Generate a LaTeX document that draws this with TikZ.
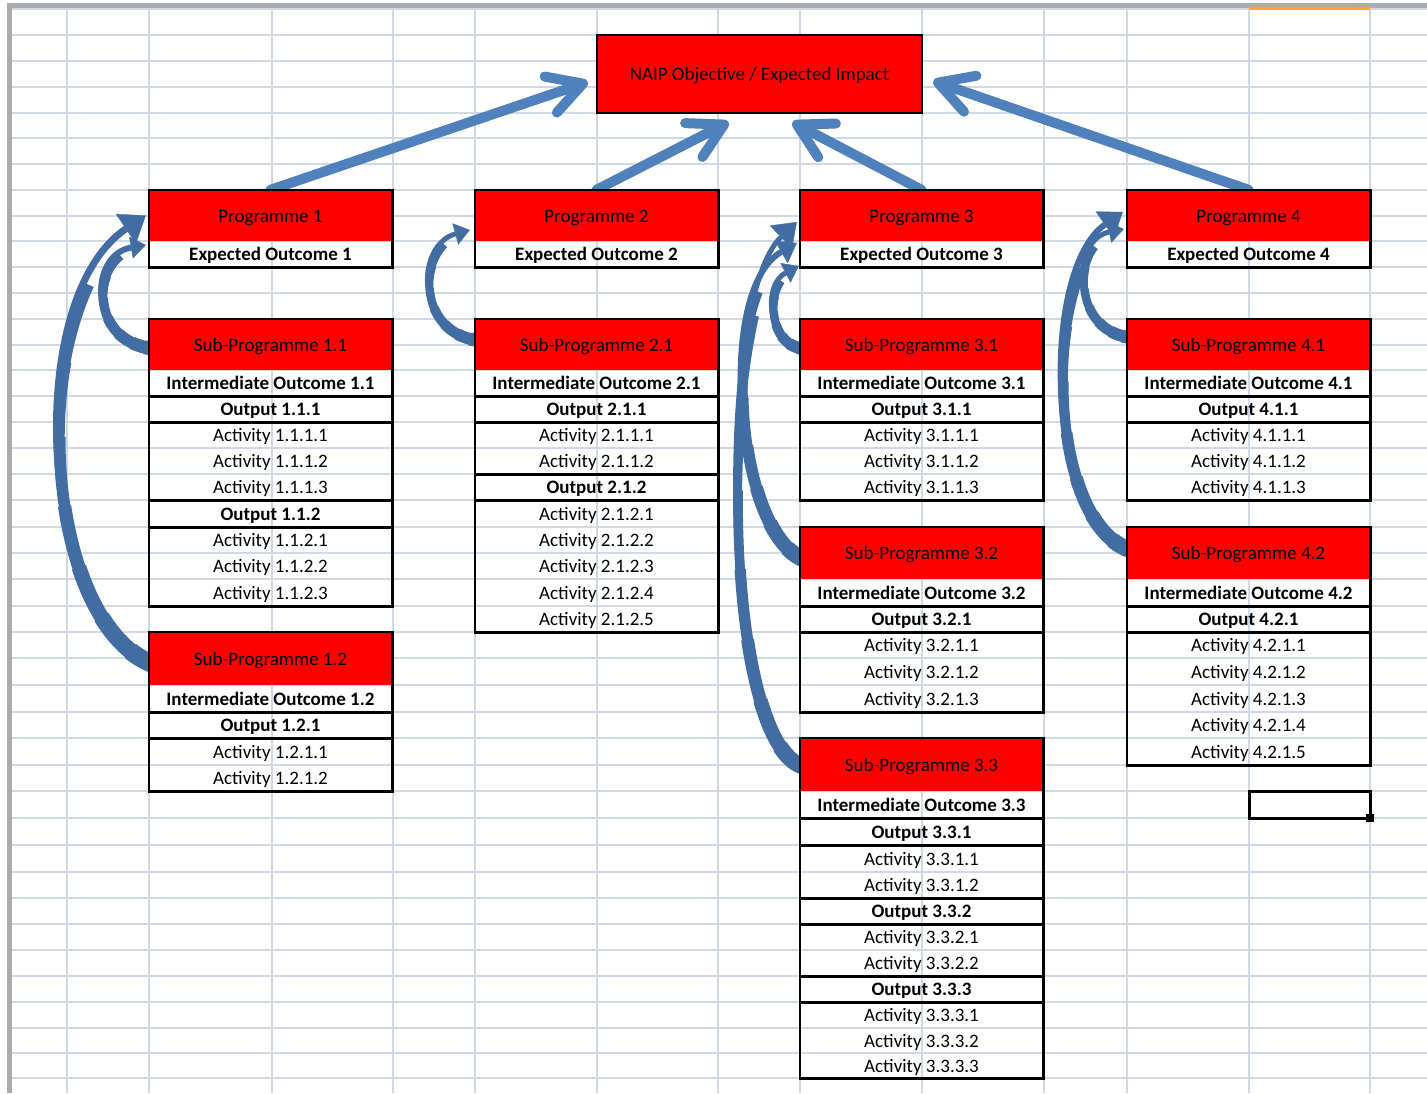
\documentclass[tikz,border=0pt]{standalone}
\usepackage{fontspec}
\setmainfont{Carlito}
\usetikzlibrary{arrows.meta,calc}
\definecolor{gridc}{HTML}{D0D7E5}
\definecolor{arrowblue}{HTML}{4F81BD}
\definecolor{curveblue}{HTML}{426DA2}
\definecolor{cellred}{HTML}{FF0000}
\definecolor{hdrgray}{HTML}{ABABAB}
\definecolor{selorange}{HTML}{F9A838}
\pgfdeclarelayer{gridlayer}
\pgfdeclarelayer{arrowlayer}
\pgfsetlayers{gridlayer,arrowlayer,main}
\def\RY{{9,35,61,87,113,138,164,190,216,241,267,293,319,345,370,396,422,448,474,500,527,553,579,606,632,658,685,712,738,765,791,818,845,872,898,924,950,976,1002,1028,1053,1078,1093}}
\newcommand\mkcell[6]{%
  \pgfmathsetmacro\ytop{\RY[#3]}%
  \pgfmathsetmacro\ybot{\RY[#4]}%
  \pgfmathsetmacro\hcell{\ybot-\ytop}%
  \pgfmathsetmacro\ycen{(\ybot+\ytop)/2}%
  \node[#5, minimum height=\hcell pt] (#1) at (#2+121.5,\ycen) {#6};%
}
\newcommand\grpbox[2]{\draw[boxline] (#1.north west) rectangle (#2.south east);}
% tapered curved arrow: #1 path, #2 length, #3 tail width, #4 head width, #5 tip options
\newcommand\taper[5]{%
  \foreach \i in {0,...,6}{%
    \pgfmathsetmacro\lw{#3-(#3-#4)*\i/7}%
    \pgfmathsetmacro\dl{#2*((\i+1)/8)^1.4}%
    \draw[curvebody, line width=\lw pt, dash pattern=on \dl pt off 3000pt] #1;%
  }%
  \draw[curvebody, line width=#4pt, -{Triangle[#5,line width=0.3pt]}] #1;%
}
\begin{document}
\begin{tikzpicture}[x=1pt,y=-1pt,
  cellbase/.style={rectangle, inner sep=0pt, minimum width=243pt, text=black,
    text height=15pt, text depth=2pt,
    font=\fontsize{19pt}{22pt}\selectfont},
  redcell/.style={cellbase, fill=cellred},
  boldcell/.style={cellbase, font=\fontsize{19pt}{22pt}\selectfont\bfseries},
  plaincell/.style={cellbase},
  boxline/.style={line width=2.6pt, black},
  gridline/.style={gridc, line width=1.3pt},
  progarrow/.style={draw=arrowblue, line width=10pt, line cap=round,
    -{Straight Barb[length=34pt,width=38pt,round]}},
  curvebody/.style={draw=curveblue, line cap=butt}
]
\useasboundingbox (0,0) rectangle (1427,1093);
\begin{pgfonlayer}{gridlayer}
  \fill[white] (0,0) rectangle (1427,1093);
  \foreach \k in {0,...,41}{\pgfmathsetmacro\yy{\RY[\k]}\draw[gridline] (12,\yy) -- (1427,\yy);}
  \foreach \xx in {67,149,272,393,475,597,718,800,922,1044,1127,1249,1370}{\draw[gridline] (\xx,9) -- (\xx,1093);}
  \fill[hdrgray] (7,3) rectangle (1427,8);
  \fill[hdrgray] (7,3) rectangle (12,1093);
  \fill[selorange] (1249,7) rectangle (1370,10);
\end{pgfonlayer}

% top objective
\node[redcell, draw=black, line width=2.6pt, minimum width=325pt, minimum height=78pt] (naip) at (759.5,74) {NAIP Objective / Expected Impact};

% ---- column 1
\mkcell{p1}{149}{7}{9}{redcell}{Programme 1}
\mkcell{eo1}{149}{9}{10}{boldcell}{Expected Outcome 1}
\grpbox{p1}{eo1}
\mkcell{sp11}{149}{12}{14}{redcell}{Sub-Programme 1.1}
\mkcell{io11}{149}{14}{15}{boldcell}{Intermediate Outcome 1.1}
\grpbox{sp11}{io11}
\mkcell{o111}{149}{15}{16}{boldcell}{Output 1.1.1}
\grpbox{o111}{o111}
\mkcell{a1111}{149}{16}{17}{plaincell}{Activity 1.1.1.1}
\mkcell{a1112}{149}{17}{18}{plaincell}{Activity 1.1.1.2}
\mkcell{a1113}{149}{18}{19}{plaincell}{Activity 1.1.1.3}
\grpbox{a1111}{a1113}
\mkcell{o112}{149}{19}{20}{boldcell}{Output 1.1.2}
\grpbox{o112}{o112}
\mkcell{a1121}{149}{20}{21}{plaincell}{Activity 1.1.2.1}
\mkcell{a1122}{149}{21}{22}{plaincell}{Activity 1.1.2.2}
\mkcell{a1123}{149}{22}{23}{plaincell}{Activity 1.1.2.3}
\grpbox{a1121}{a1123}
\mkcell{sp12}{149}{24}{26}{redcell}{Sub-Programme 1.2}
\mkcell{io12}{149}{26}{27}{boldcell}{Intermediate Outcome 1.2}
\grpbox{sp12}{io12}
\mkcell{o121}{149}{27}{28}{boldcell}{Output 1.2.1}
\grpbox{o121}{o121}
\mkcell{a1211}{149}{28}{29}{plaincell}{Activity 1.2.1.1}
\mkcell{a1212}{149}{29}{30}{plaincell}{Activity 1.2.1.2}
\grpbox{a1211}{a1212}

% ---- column 2
\mkcell{p2}{475}{7}{9}{redcell}{Programme 2}
\mkcell{eo2}{475}{9}{10}{boldcell}{Expected Outcome 2}
\grpbox{p2}{eo2}
\mkcell{sp21}{475}{12}{14}{redcell}{Sub-Programme 2.1}
\mkcell{io21}{475}{14}{15}{boldcell}{Intermediate Outcome 2.1}
\grpbox{sp21}{io21}
\mkcell{o211}{475}{15}{16}{boldcell}{Output 2.1.1}
\grpbox{o211}{o211}
\mkcell{a2111}{475}{16}{17}{plaincell}{Activity 2.1.1.1}
\mkcell{a2112}{475}{17}{18}{plaincell}{Activity 2.1.1.2}
\grpbox{a2111}{a2112}
\mkcell{o212}{475}{18}{19}{boldcell}{Output 2.1.2}
\grpbox{o212}{o212}
\mkcell{a2121}{475}{19}{20}{plaincell}{Activity 2.1.2.1}
\mkcell{a2122}{475}{20}{21}{plaincell}{Activity 2.1.2.2}
\mkcell{a2123}{475}{21}{22}{plaincell}{Activity 2.1.2.3}
\mkcell{a2124}{475}{22}{23}{plaincell}{Activity 2.1.2.4}
\mkcell{a2125}{475}{23}{24}{plaincell}{Activity 2.1.2.5}
\grpbox{a2121}{a2125}

% ---- column 3
\mkcell{p3}{800}{7}{9}{redcell}{Programme 3}
\mkcell{eo3}{800}{9}{10}{boldcell}{Expected Outcome 3}
\grpbox{p3}{eo3}
\mkcell{sp31}{800}{12}{14}{redcell}{Sub-Programme 3.1}
\mkcell{io31}{800}{14}{15}{boldcell}{Intermediate Outcome 3.1}
\grpbox{sp31}{io31}
\mkcell{o311}{800}{15}{16}{boldcell}{Output 3.1.1}
\grpbox{o311}{o311}
\mkcell{a3111}{800}{16}{17}{plaincell}{Activity 3.1.1.1}
\mkcell{a3112}{800}{17}{18}{plaincell}{Activity 3.1.1.2}
\mkcell{a3113}{800}{18}{19}{plaincell}{Activity 3.1.1.3}
\grpbox{a3111}{a3113}
\mkcell{sp32}{800}{20}{22}{redcell}{Sub-Programme 3.2}
\mkcell{io32}{800}{22}{23}{boldcell}{Intermediate Outcome 3.2}
\grpbox{sp32}{io32}
\mkcell{o321}{800}{23}{24}{boldcell}{Output 3.2.1}
\grpbox{o321}{o321}
\mkcell{a3211}{800}{24}{25}{plaincell}{Activity 3.2.1.1}
\mkcell{a3212}{800}{25}{26}{plaincell}{Activity 3.2.1.2}
\mkcell{a3213}{800}{26}{27}{plaincell}{Activity 3.2.1.3}
\grpbox{a3211}{a3213}
\mkcell{sp33}{800}{28}{30}{redcell}{Sub-Programme 3.3}
\mkcell{io33}{800}{30}{31}{boldcell}{Intermediate Outcome 3.3}
\grpbox{sp33}{io33}
\mkcell{o331}{800}{31}{32}{boldcell}{Output 3.3.1}
\grpbox{o331}{o331}
\mkcell{a3311}{800}{32}{33}{plaincell}{Activity 3.3.1.1}
\mkcell{a3312}{800}{33}{34}{plaincell}{Activity 3.3.1.2}
\grpbox{a3311}{a3312}
\mkcell{o332}{800}{34}{35}{boldcell}{Output 3.3.2}
\grpbox{o332}{o332}
\mkcell{a3321}{800}{35}{36}{plaincell}{Activity 3.3.2.1}
\mkcell{a3322}{800}{36}{37}{plaincell}{Activity 3.3.2.2}
\grpbox{a3321}{a3322}
\mkcell{o333}{800}{37}{38}{boldcell}{Output 3.3.3}
\grpbox{o333}{o333}
\mkcell{a3331}{800}{38}{39}{plaincell}{Activity 3.3.3.1}
\mkcell{a3332}{800}{39}{40}{plaincell}{Activity 3.3.3.2}
\mkcell{a3333}{800}{40}{41}{plaincell}{Activity 3.3.3.3}
\grpbox{a3331}{a3333}

% ---- column 4
\mkcell{p4}{1127}{7}{9}{redcell}{Programme 4}
\mkcell{eo4}{1127}{9}{10}{boldcell}{Expected Outcome 4}
\grpbox{p4}{eo4}
\mkcell{sp41}{1127}{12}{14}{redcell}{Sub-Programme 4.1}
\mkcell{io41}{1127}{14}{15}{boldcell}{Intermediate Outcome 4.1}
\grpbox{sp41}{io41}
\mkcell{o411}{1127}{15}{16}{boldcell}{Output 4.1.1}
\grpbox{o411}{o411}
\mkcell{a4111}{1127}{16}{17}{plaincell}{Activity 4.1.1.1}
\mkcell{a4112}{1127}{17}{18}{plaincell}{Activity 4.1.1.2}
\mkcell{a4113}{1127}{18}{19}{plaincell}{Activity 4.1.1.3}
\grpbox{a4111}{a4113}
\mkcell{sp42}{1127}{20}{22}{redcell}{Sub-Programme 4.2}
\mkcell{io42}{1127}{22}{23}{boldcell}{Intermediate Outcome 4.2}
\grpbox{sp42}{io42}
\mkcell{o421}{1127}{23}{24}{boldcell}{Output 4.2.1}
\grpbox{o421}{o421}
\mkcell{a4211}{1127}{24}{25}{plaincell}{Activity 4.2.1.1}
\mkcell{a4212}{1127}{25}{26}{plaincell}{Activity 4.2.1.2}
\mkcell{a4213}{1127}{26}{27}{plaincell}{Activity 4.2.1.3}
\mkcell{a4214}{1127}{27}{28}{plaincell}{Activity 4.2.1.4}
\mkcell{a4215}{1127}{28}{29}{plaincell}{Activity 4.2.1.5}
\grpbox{a4211}{a4215}

% selected spreadsheet cell
\draw[line width=3pt] (1249,791) rectangle (1370,818);
\fill (1366,814) rectangle (1374,822);

% ---- connectors
\begin{pgfonlayer}{arrowlayer}
  \draw[progarrow] (p1.north) -- ($(naip.west)+(-8,8)$);
  \draw[progarrow] (p2.north) -- ($(naip.south)+(-31,8)$);
  \draw[progarrow] (p3.north) -- ($(naip.south)+(33,8)$);
  \draw[progarrow] (p4.north) -- ($(naip.east)+(10,7)$);

  \taper{($(sp12.west)+(5,6)$) .. controls (40,622) and (20,300) .. ($(p1.west)+(-3,0)$)}{500}{18}{7}{length=24pt,width=36pt}
  \taper{($(sp11.west)+(4,4)$) .. controls (88,342) and (88,255) .. ($(p1.west)+(-3,29.5)$)}{150}{14}{6}{length=15pt,width=22pt}
  \taper{($(sp21.west)+(3,-4)$) .. controls (415,332) and (415,245) .. ($(p2.west)+(-5,14.5)$)}{150}{13}{5}{length=15pt,width=22pt}
  \taper{($(sp31.west)+(3,4)$) .. controls (768,345) and (762,285) .. ($(p3.west)+(-1,50.5)$)}{100}{13}{5}{length=15pt,width=22pt}
  \taper{($(sp32.west)+(3,6)$) .. controls (735,530) and (715,290) .. ($(p3.west)+(-3,27.5)$)}{345}{16}{6}{length=18pt,width=26pt}
  \taper{($(sp33.west)+(3,2)$) .. controls (720,740) and (715,300) .. ($(p3.west)+(-3,6.5)$)}{565}{16}{5}{length=22pt,width=32pt}
  \taper{($(sp41.west)+(3,-7)$) .. controls (1070,330) and (1070,240) .. ($(p4.west)+(-3,13.5)$)}{140}{13}{5}{length=15pt,width=22pt}
  \taper{($(sp42.west)+(3,-3)$) .. controls (1045,520) and (1040,270) .. ($(p4.west)+(-4,-3.5)$)}{368}{16}{6}{length=22pt,width=32pt}
\end{pgfonlayer}
\end{tikzpicture}
\end{document}
